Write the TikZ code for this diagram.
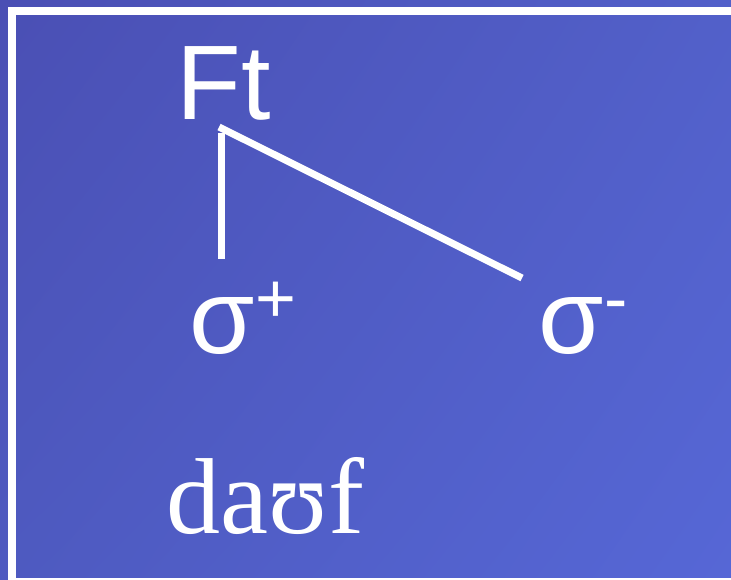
\documentclass[tikz,border=0pt]{standalone}
\usepackage{fontspec}
\usetikzlibrary{shadings}
\setmainfont{Liberation Serif}
\newfontfamily\arialf{Liberation Sans}
\definecolor{bgUL}{HTML}{4A4FB4}
\definecolor{bgUR}{HTML}{5260C9}
\definecolor{bgLL}{HTML}{4E5AC0}
\definecolor{bgLR}{HTML}{5667D6}
\newcommand{\supmark}[1]{\raisebox{31pt}{\fontsize{70}{70}\selectfont #1}}
\begin{document}
\begin{tikzpicture}[x=1pt,y=-1pt,
  lbl/.style={text=white, inner sep=0pt, anchor=base, font=\arialf\fontsize{106}{110}\selectfont},
  ipa/.style={text=white, inner sep=0pt, anchor=base, font=\fontsize{108}{112}\selectfont},
  branch/.style={draw=white, line width=7pt}]
\useasboundingbox (0,0) rectangle (731,579);
\shade[upper left=bgUL, upper right=bgUR, lower left=bgLL, lower right=bgLR] (0,0) rectangle (731,579);
\draw[white, line width=8pt] (12,10.5) rectangle (745,582);
\node[lbl] (ft) at (223.5,119) {Ft};
\node[lbl] (sp) at (243,353) {σ\supmark{+}};
\node[lbl] (sm) at (583,353) {σ\supmark{-}};
\node[ipa] (word) at (265.5,533) {daʊf};
\coordinate (ftv) at (221,133);
\coordinate (ftd) at (219,127);
\coordinate (spt) at (221,259);
\coordinate (smt) at (522,278);
\draw[branch] (ftv) -- (spt);
\draw[branch] (ftd) -- (smt);
\end{tikzpicture}
\end{document}
